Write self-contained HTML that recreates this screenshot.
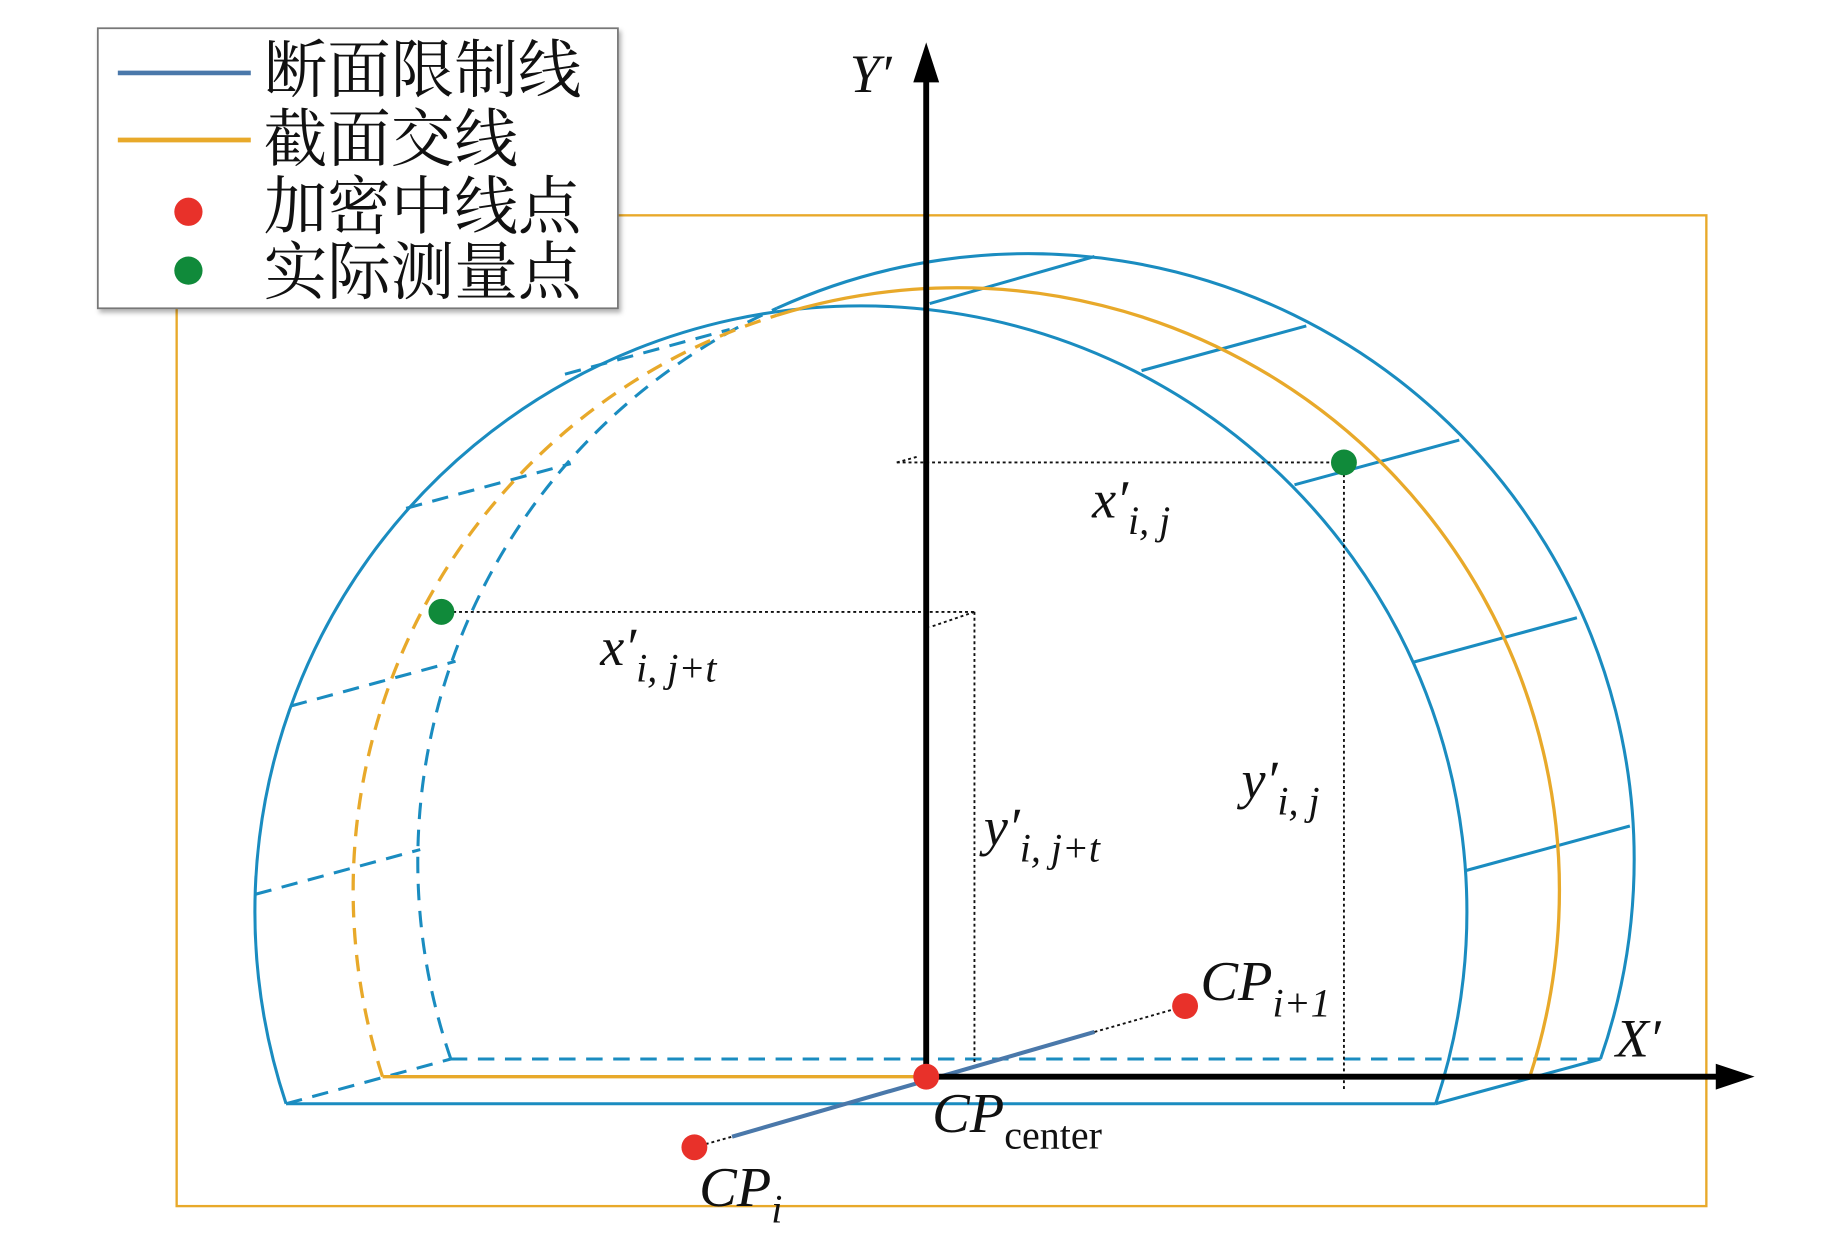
<!DOCTYPE html>
<html><head><meta charset="utf-8"><style>html,body{margin:0;padding:0;background:#fff}svg{display:block}</style></head>
<body>
<svg width="1843" height="1252" viewBox="0 0 1566 1064" xmlns="http://www.w3.org/2000/svg">
<defs><filter id="sh" x="-5%" y="-5%" width="115%" height="120%"><feDropShadow dx="2" dy="3" stdDeviation="2" flood-opacity="0.3"/></filter></defs>
<rect x="0" y="0" width="1566" height="1064" fill="#fff"/>
<rect x="150" y="183" width="1300" height="842" fill="none" stroke="#e8a92a" stroke-width="2"/>
<g fill="none" stroke="#1a8cc0" stroke-width="2.6">
  <path d="M243,938 A515,515 0 1 1 1220,938"/>
  <line x1="243" y1="938" x2="1220" y2="938"/>
  <path d="M383,900 A515,515 0 0 1 660,262" stroke-dasharray="14,9"/>
  <path d="M660,262 A515,515 0 0 1 1360,900"/>
  <line x1="383" y1="900" x2="1360" y2="900" stroke-dasharray="14,9"/>
  <line x1="790" y1="258" x2="930" y2="218"/>
  <line x1="970" y1="315" x2="1110" y2="277"/>
  <line x1="1100" y1="412" x2="1240" y2="374"/>
  <line x1="1200" y1="563" x2="1340" y2="525"/>
  <line x1="1245" y1="740" x2="1385" y2="702"/>
  <line x1="1220" y1="938" x2="1360" y2="900"/>
  <g stroke-dasharray="14,9">
    <line x1="243" y1="938" x2="383" y2="900"/>
    <line x1="217" y1="760" x2="357" y2="722"/>
    <line x1="247" y1="600" x2="387" y2="562"/>
    <line x1="345" y1="432" x2="485" y2="394"/>
    <line x1="480" y1="318" x2="620" y2="280"/>
  </g>
</g>
<g fill="none" stroke="#e8a92a" stroke-width="2.8">
  <path d="M325,915 A512,512 0 0 1 660,268" stroke-dasharray="14,9"/>
  <path d="M660,268 A512,512 0 0 1 1300,915"/>
  <line x1="325" y1="915" x2="1300" y2="915"/>
</g>
<g fill="none" stroke="#111" stroke-width="1.6" stroke-dasharray="2.5,2.5">
  <line x1="762" y1="393" x2="1142" y2="393"/>
  <line x1="762" y1="393" x2="780" y2="388"/>
  <line x1="1142" y1="393" x2="1142" y2="928"/>
  <line x1="375" y1="520" x2="828" y2="520"/>
  <line x1="828" y1="520" x2="828" y2="905"/>
  <line x1="828" y1="520" x2="790" y2="533"/>
  <line x1="590" y1="975" x2="622" y2="966"/>
  <line x1="930" y1="877" x2="1007" y2="855"/>
</g>
<line x1="622" y1="966" x2="930" y2="877" stroke="#4a78aa" stroke-width="3.5"/>
<line x1="787" y1="915" x2="787" y2="62" stroke="#000" stroke-width="5"/>
<polygon points="787,36 776,70 798,70" fill="#000"/>
<line x1="787" y1="915" x2="1465" y2="915" stroke="#000" stroke-width="5"/>
<polygon points="1491,915 1458,904 1458,926" fill="#000"/>
<circle cx="590" cy="975" r="11" fill="#e8312a"/>
<circle cx="787" cy="915" r="11" fill="#e8312a"/>
<circle cx="1007" cy="855" r="11" fill="#e8312a"/>
<circle cx="1142" cy="393" r="11" fill="#108a3a"/>
<circle cx="375" cy="520" r="11" fill="#108a3a"/>
<g font-family="Liberation Serif, serif" font-style="italic" fill="#111">
  <text x="722" y="78" font-size="46">Y′</text>
  <text x="1373" y="898" font-size="46">X′</text>
  <text x="928" y="440" font-size="46">x′<tspan font-size="34" dy="14">i, j</tspan></text>
  <text x="510" y="565" font-size="46">x′<tspan font-size="34" dy="14">i, j+t</tspan></text>
  <text x="836" y="718" font-size="46">y′<tspan font-size="34" dy="14">i, j+t</tspan></text>
  <text x="1055" y="678" font-size="46">y′<tspan font-size="34" dy="14">i, j</tspan></text>
  <text x="1020" y="850" font-size="48">CP<tspan font-size="34" dy="14">i+1</tspan></text>
  <text x="792" y="962" font-size="48">CP<tspan font-size="34" dy="14" font-style="normal">center</tspan></text>
  <text x="594" y="1025" font-size="48">CP<tspan font-size="34" dy="14">i</tspan></text>
</g>
<rect x="83" y="24" width="442" height="238" fill="#fff" stroke="#777" stroke-width="1.5" filter="url(#sh)"/>
<line x1="100" y1="62" x2="213" y2="62" stroke="#4a78aa" stroke-width="4"/>
<line x1="100" y1="119" x2="213" y2="119" stroke="#e8a92a" stroke-width="4"/>
<circle cx="160" cy="180" r="12" fill="#e8312a"/>
<circle cx="160" cy="230" r="12" fill="#108a3a"/>
<g font-family="Liberation Serif, 'Noto Serif CJK SC', serif" font-size="54" fill="#111">
  <text x="224" y="78">断面限制线</text>
  <text x="224" y="137">截面交线</text>
  <text x="224" y="194">加密中线点</text>
  <text x="224" y="250">实际测量点</text>
</g>
</svg>
</body></html>
